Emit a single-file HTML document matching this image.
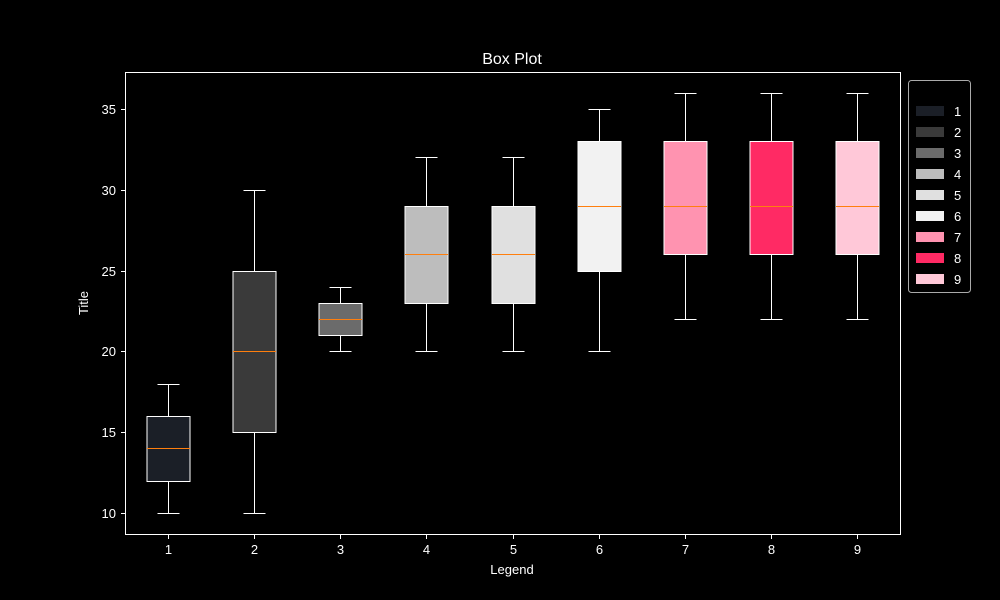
<!DOCTYPE html>
<html><head><meta charset="utf-8"><style>
html,body{margin:0;padding:0;background:#000;overflow:hidden;width:1000px;height:600px;}
svg{display:block;}
svg text{font-family:"Liberation Sans","DejaVu Sans",sans-serif;fill:#fff;}
</style></head><body>
<svg id="chart" width="1000" height="600">
<rect width="1000" height="600" fill="#000"/>
<text x="512" y="64" font-size="16" text-anchor="middle">Box Plot</text>
<text x="512" y="574" font-size="13" text-anchor="middle">Legend</text>
<text x="88" y="303" font-size="13" text-anchor="middle" transform="rotate(-90 88 303)">Title</text>
<g id="plot" shape-rendering="crispEdges"></g>
<rect x="125.5" y="72.5" width="775" height="462" fill="none" stroke="#fff" stroke-width="1"/>
</svg>
<script>
const categories=["1","2","3","4","5","6","7","8","9"];
const mins=[10,10,20,20,20,20,22,22,22];
const q1s=[12,15,21,23,23,25,26,26,26];
const medians=[14,20,22,26,26,29,29,29,29];
const q3s=[16,25,23,29,29,33,33,33,33];
const maxs=[18,30,24,32,32,35,36,36,36];
const colors=["#1b1f27","#3a3a3a","#6b6b6b","#bdbdbd","#e0e0e0","#f2f2f2","#ff93b0","#ff2a64","#ffc8d8"];
const yTicks=[10,15,20,25,30,35];
const NS="http://www.w3.org/2000/svg";
const g=document.getElementById('plot');
const svg=document.getElementById('chart');
function y(v){return Math.round(513-(v-10)*16.16)+0.5;}
function x(i){return Math.round(168+i*86.125)+0.5;}
function mk(t,a,p){const e=document.createElementNS(NS,t);for(const k in a)e.setAttribute(k,a[k]);(p||g).appendChild(e);return e;}
yTicks.forEach(v=>{
 const l=mk('line',{x1:121,x2:125,y1:y(v),y2:y(v),stroke:'#fff'});
 
 
 const t=mk('text',{x:116,y:y(v)+4.5,'font-size':13,'text-anchor':'end'});t.textContent=v;
 
 
});
categories.forEach((c,i)=>{
 const cx=x(i),hw=21.5;
 const l=mk('line',{x1:cx,x2:cx,y1:535,y2:539,stroke:'#fff'});
 
 
 const t=mk('text',{x:cx,y:554,'font-size':13,'text-anchor':'middle'});t.textContent=c;
 
 
 const grp=mk('g',{});
 
 
 mk('line',{x1:cx,x2:cx,y1:y(q1s[i]),y2:y(mins[i]),stroke:'#fff'},grp);
 mk('line',{x1:cx,x2:cx,y1:y(q3s[i]),y2:y(maxs[i]),stroke:'#fff'},grp);
 mk('line',{x1:cx-11,x2:cx+11,y1:y(mins[i]),y2:y(mins[i]),stroke:'#fff'},grp);
 mk('line',{x1:cx-11,x2:cx+11,y1:y(maxs[i]),y2:y(maxs[i]),stroke:'#fff'},grp);
 mk('rect',{x:cx-hw,y:y(q3s[i]),width:hw*2,height:y(q1s[i])-y(q3s[i]),fill:colors[i],stroke:'#fff'},grp);
 mk('line',{x1:cx-hw,x2:cx+hw,y1:y(medians[i]),y2:y(medians[i]),stroke:'#ff7f0e'},grp);
});
const lg=mk('g',{},svg);


mk('rect',{x:908.5,y:80.5,width:62,height:212,rx:3,fill:'#000',stroke:'#aaa'},lg);
categories.forEach((c,i)=>{
 const cy=111+i*21;
 const e=mk('g',{},lg);
 
 
 mk('rect',{x:916,y:cy-5,width:28,height:10,fill:colors[i]},e);
 const t=mk('text',{x:954,y:cy+5,'font-size':13},e);t.textContent=c;
});
</script>
</body></html>
